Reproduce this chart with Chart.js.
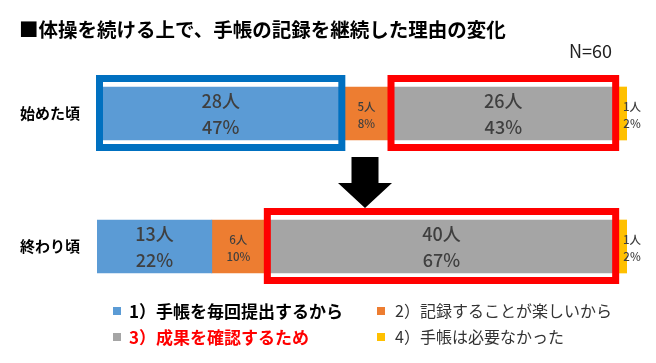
<!DOCTYPE html>
<html>
<head>
<meta charset="utf-8">
<script src="https://cdn.jsdelivr.net/npm/chart.js@4.4.0/dist/chart.umd.min.js"></script>
<style>
    html, body { margin: 0; padding: 0; background: #fff; }
    #wrap { position: relative; width: 656px; height: 363px; overflow: hidden; font-family: "Noto Sans CJK JP", "Noto Sans", sans-serif; }
    #chart { position: absolute; left: 0; top: 0; }
    .title { position: absolute; left: 19px; top: 19px; font-size: 19.5px; font-weight: bold; line-height: 20px; color: #000; white-space: nowrap; }
    .n { position: absolute; right: 44px; top: 41px; font-size: 18px; line-height: 18px; color: #222; }
    .legend-item { position: absolute; white-space: nowrap; line-height: 17px; }
    .legend-color { position: absolute; width: 8px; height: 8px; top: 5px; }
    .legend-text { position: absolute; }
</style>
</head>
<body>
<div id="wrap">
    <canvas id="chart" width="656" height="363"></canvas>
    <div class="title">■体操を続ける上で、手帳の記録を継続した理由の変化</div>
    <div class="n">N=60</div>
    <div id="legend"></div>
</div>
<script>
// 行ラベルと理由
const rows = ['始めた頃', '終わり頃'];
const reasons = ['1）手帳を毎回提出するから', '2）記録することが楽しいから', '3）成果を確認するため', '4）手帳は必要なかった'];

// 人数（N=60）
const total = 60;
const blueCounts = [28, 13];
const orangeCounts = [5, 6];
const grayCounts = [26, 40];
const yellowCounts = [1, 1];

// 割合（%）
const bluePct = [47, 22];
const orangePct = [8, 10];
const grayPct = [43, 67];
const yellowPct = [2, 2];

const colors = ['#5B9BD5', '#ED7D31', '#A5A5A5', '#FFC000'];

const datasets = [
    { label: reasons[0], data: blueCounts, pct: bluePct, backgroundColor: colors[0] },
    { label: reasons[1], data: orangeCounts, pct: orangePct, backgroundColor: colors[1] },
    { label: reasons[2], data: grayCounts, pct: grayPct, backgroundColor: colors[2] },
    { label: reasons[3], data: yellowCounts, pct: yellowPct, backgroundColor: colors[3] }
];

// 強調枠 [dataset, row, color]
const highlights = [
    [0, 0, '#0070C0'],
    [2, 0, '#FF0000'],
    [2, 1, '#FF0000']
];

// 人数と割合のラベル
const labelPlugin = {
    id: 'segLabels',
    afterDatasetsDraw(chart) {
        const ctx = chart.ctx;
        ctx.save();
        ctx.textAlign = 'center';
        ctx.textBaseline = 'middle';
        ctx.fillStyle = '#3F3F3F';
        chart.data.datasets.forEach((ds, di) => {
            const meta = chart.getDatasetMeta(di);
            meta.data.forEach((bar, i) => {
                const w = bar.x - bar.base;
                const v = ds.data[i];
                const p = ds.pct[i];
                if (w > 100) {
                    const cx = (bar.x + bar.base) / 2;
                    ctx.font = '500 18px "Noto Sans CJK JP", sans-serif';
                    ctx.fillText(v + '人', cx, bar.y - 12);
                    ctx.fillText(p + '%', cx, bar.y + 14);
                } else {
                    const cx = w < 20 ? bar.x + 5 : (bar.x + bar.base) / 2;
                    ctx.font = '500 11.5px "Noto Sans CJK JP", sans-serif';
                    ctx.fillText(v + '人', cx, bar.y - 7);
                    ctx.fillText(p + '%', cx, bar.y + 10);
                }
            });
        });
        ctx.restore();
    }
};

// 枠と矢印
const boxPlugin = {
    id: 'boxes',
    afterDatasetsDraw(chart) {
        const ctx = chart.ctx;
        const lw = 7;
        ctx.save();
        highlights.forEach(([di, i, col]) => {
            const bar = chart.getDatasetMeta(di).data[i];
            const left = bar.base - 1;
            const right = bar.x + 1;
            const top = bar.y - bar.height / 2 - 12;
            const bottom = bar.y + bar.height / 2 + 11;
            ctx.strokeStyle = col;
            ctx.lineWidth = lw;
            ctx.strokeRect(left + lw / 2, top + lw / 2, right - left - lw, bottom - top - lw);
        });

        // 下向き矢印
        const b1 = chart.getDatasetMeta(0).data[0];
        const b2 = chart.getDatasetMeta(0).data[1];
        const cx = (chart.chartArea.left + chart.chartArea.right) / 2 + 3;
        const y0 = b1.y + b1.height / 2 + 17;
        const y2 = b2.y - b2.height / 2 - 12;
        const y1 = y2 - 25;
        ctx.fillStyle = '#000';
        ctx.beginPath();
        ctx.moveTo(cx - 13.5, y0);
        ctx.lineTo(cx + 13.5, y0);
        ctx.lineTo(cx + 13.5, y1);
        ctx.lineTo(cx + 27, y1);
        ctx.lineTo(cx, y2);
        ctx.lineTo(cx - 27, y1);
        ctx.lineTo(cx - 13.5, y1);
        ctx.closePath();
        ctx.fill();
        ctx.restore();
    }
};

const ctx = document.getElementById('chart').getContext('2d');
const chart = new Chart(ctx, {
    type: 'bar',
    data: { labels: rows, datasets: datasets },
    options: {
        indexAxis: 'y',
        responsive: false,
        animation: false,
        layout: { padding: { top: 47, bottom: 50, right: 29, left: 0 } },
        datasets: { bar: { barThickness: 53, borderWidth: 0 } },
        plugins: {
            legend: { display: false },
            tooltip: { enabled: false }
        },
        scales: {
            x: { stacked: true, min: 0, max: total, display: false },
            y: {
                stacked: true,
                afterFit(scale) { scale.width = 97; },
                grid: { display: false, drawTicks: false },
                border: { display: false },
                ticks: {
                    padding: 17,
                    color: '#000',
                    font: { family: '"Noto Sans CJK JP", sans-serif', size: 15, weight: 'bold' }
                }
            }
        }
    },
    plugins: [boxPlugin, labelPlugin]
});

// 凡例（HTML）
const legendPos = [
    { x: 113, y: 302, bold: true, color: '#000', size: 17 },
    { x: 377, y: 302, bold: false, color: '#333', size: 16 },
    { x: 113, y: 328, bold: true, color: '#FF0000', size: 17 },
    { x: 377, y: 328, bold: false, color: '#333', size: 16 }
];
const legend = document.getElementById('legend');
reasons.forEach((label, index) => {
    const p = legendPos[index];
    const item = document.createElement('div');
    item.className = 'legend-item';
    item.style.left = p.x + 'px';
    item.style.top = p.y + 'px';
    item.innerHTML = `
        <span class="legend-color" style="left:0;background-color:${colors[index]}"></span>
        <span class="legend-text" style="left:${index % 2 ? 18 : 16}px;font-size:${p.size}px;font-weight:${p.bold ? 'bold' : 'normal'};color:${p.color}">${label}</span>
    `;
    legend.appendChild(item);
});
</script>
</body>
</html>
